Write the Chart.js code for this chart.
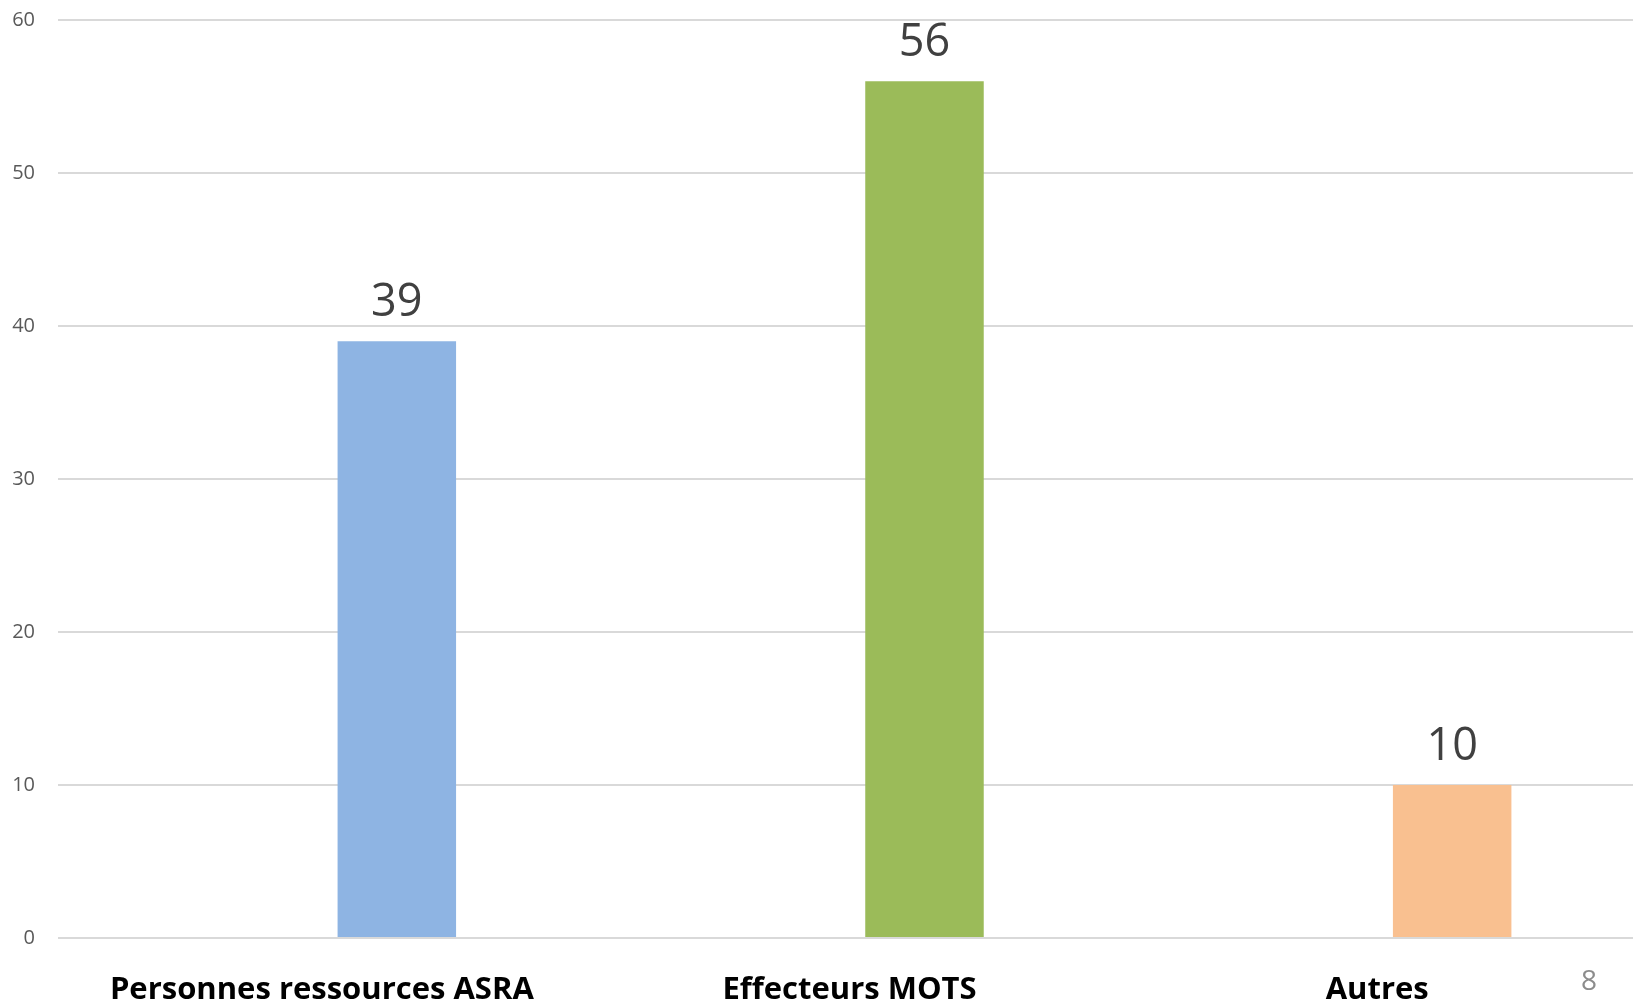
<!DOCTYPE html>
<html>
<head>
<meta charset="utf-8">
<script src="https://cdn.jsdelivr.net/npm/chart.js@4"></script>
<style>
  body { margin: 0; overflow: hidden; background: #fff; }
  #wrap { position: relative; width: 1641px; height: 1001px; }
  #page { position: absolute; left: 1581px; top: 960px; font: 28px "Open Sans"; color: #8c8c8c; }
</style>
</head>
<body>
<div id="wrap">
  <canvas id="myChart"></canvas>
  <div id="page">8</div>
</div>
<script>
// Data
var categories = ['Personnes ressources ASRA', 'Effecteurs MOTS', 'Autres'];
var counts = [39, 56, 10];
var emptySeries = [null, null, null];
var barColors = ['#8eb4e3', '#9bbb59', '#f9c090'];
var yTicks = [0, 10, 20, 30, 40, 50, 60];

// Draw the value above each bar
var valueLabels = {
    id: 'valueLabels',
    afterDatasetsDraw: function(chart) {
        var ctx = chart.ctx;
        var meta = chart.getDatasetMeta(1);
        ctx.save();
        ctx.font = '45px "Open Sans"';
        ctx.fillStyle = '#404040';
        ctx.textAlign = 'center';
        ctx.textBaseline = 'alphabetic';
        meta.data.forEach(function(bar, i) {
            ctx.fillText(String(counts[i]), bar.x, bar.y - 25);
        });
        ctx.restore();
    }
};

var ctx = document.getElementById('myChart').getContext('2d');
var myChart = new Chart(ctx, {
    type: 'bar',
    data: {
        labels: categories,
        datasets: [{
            label: 'vide',
            data: emptySeries
        }, {
            label: 'Nombre',
            data: counts,
            backgroundColor: barColors
        }]
    },
    options: {
        responsive: true,
        maintainAspectRatio: false,
        devicePixelRatio: 1,
        animation: false,
        layout: { padding: { top: 20, left: 0, right: 0, bottom: 0 } },
        datasets: {
            bar: { categoryPercentage: 0.5685, barPercentage: 0.79 }
        },
        plugins: {
            legend: { display: false },
            tooltip: { enabled: false }
        },
        scales: {
            x: {
                grid: { display: false },
                border: { display: false },
                ticks: {
                    color: '#000000',
                    font: { family: 'Open Sans', size: 31, weight: 'bold' },
                    padding: 26,
                    maxRotation: 0
                },
                afterFit: function(scale) { scale.height = 63; }
            },
            y: {
                min: 0,
                max: 60,
                afterBuildTicks: function(scale) {
                    scale.ticks = yTicks.map(function(v) { return { value: v }; });
                },
                grid: { color: '#d9d9d9', lineWidth: 2, drawTicks: true, tickLength: 23, tickColor: 'rgba(0,0,0,0)' },
                border: { display: false },
                ticks: {
                    color: '#595959',
                    font: { family: 'Open Sans', size: 20 },
                    padding: 0
                },
                afterFit: function(scale) { scale.width = 58; }
            }
        }
    },
    plugins: [valueLabels]
});
</script>
</body>
</html>
